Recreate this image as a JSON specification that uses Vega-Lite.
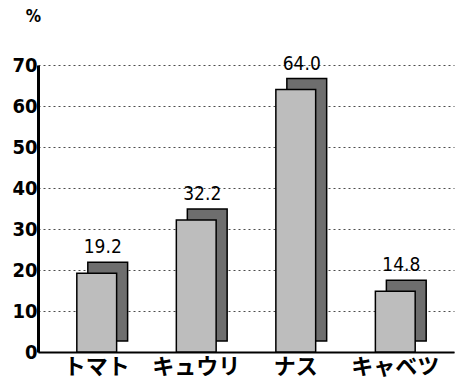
{
  "$schema": "https://vega.github.io/schema/vega-lite/v6.json",
  "autosize": {"type": "none"},
  "width": 416,
  "height": 287,
  "padding": {"left": 38, "top": 65, "right": 11, "bottom": 38},
  "background": "white",
  "data": {"values": [
    {"crop": "トマト", "pct": 19.2},
    {"crop": "キュウリ", "pct": 32.2},
    {"crop": "ナス", "pct": 64.0},
    {"crop": "キャベツ", "pct": 14.8}
  ]},
  "config": {
    "view": {"stroke": null},
    "font": "DejaVu Sans Condensed"
  },
  "encoding": {
    "x": {
      "field": "crop", "type": "nominal", "sort": null,
      "scale": {"paddingInner": 0.6, "paddingOuter": 0.39},
      "axis": {
        "title": null, "labelAngle": 0, "labelFont": "Noto Sans CJK JP",
        "labelFontSize": 22, "labelFontWeight": "bold", "labelColor": "black", "labelPadding": 4,
        "ticks": false, "domainColor": "black", "domainWidth": 2
      }
    },
    "y": {
      "field": "pct", "type": "quantitative",
      "scale": {"domain": [0, 70]},
      "axis": {
        "values": [0, 10, 20, 30, 40, 50, 60, 70],
        "title": "%", "titleAngle": 0, "titleX": -5, "titleY": -40,
        "titleFontSize": 17, "titleFontWeight": "bold", "titleColor": "black",
        "titleFont": "DejaVu Sans Condensed",
        "labelFontSize": 20, "labelFontWeight": "bold", "labelColor": "black", "labelPadding": 1,
        "ticks": false, "domainColor": "black", "domainWidth": 3,
        "gridColor": "black", "gridDash": [2, 3], "gridOpacity": 0.7, "gridWidth": 1
      }
    }
  },
  "layer": [
    {
      "mark": {"type": "bar", "xOffset": 11, "yOffset": -11, "fill": "#6e6e6e", "stroke": "black", "strokeWidth": 1.5}
    },
    {
      "mark": {"type": "bar", "fill": "#bdbdbd", "stroke": "black", "strokeWidth": 1.5}
    },
    {
      "mark": {"type": "text", "dx": 6, "dy": -26, "fontSize": 19, "color": "black", "font": "DejaVu Sans Condensed"},
      "encoding": {"text": {"field": "pct", "type": "quantitative", "format": ".1f"}}
    }
  ]
}
